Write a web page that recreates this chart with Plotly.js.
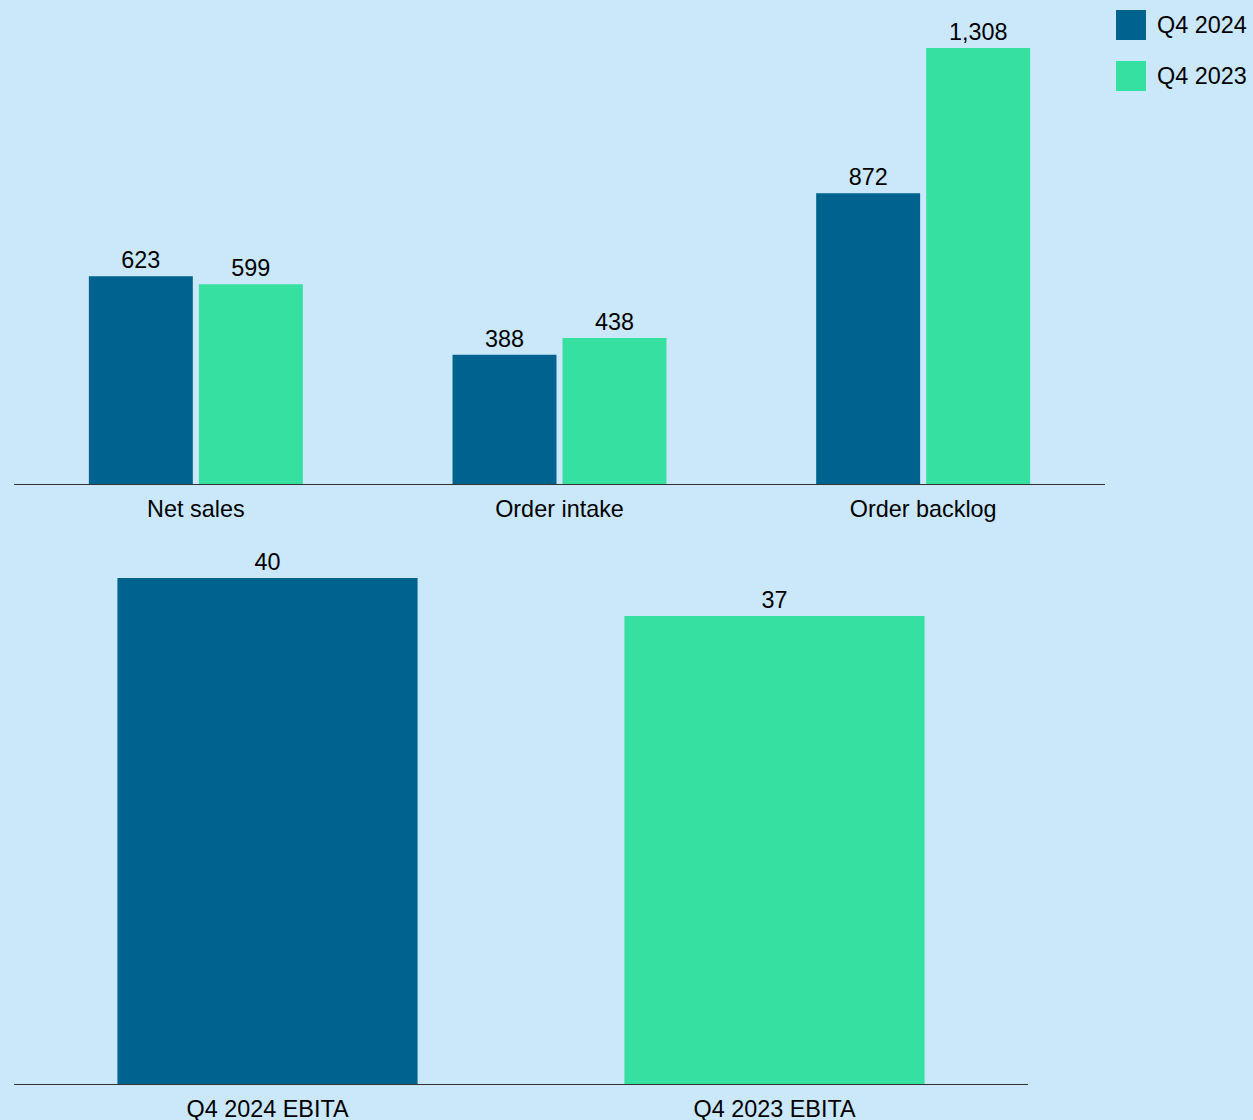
<!DOCTYPE html>
<html>
<head>
<meta charset="utf-8">
<script src="https://cdn.plot.ly/plotly-3.0.1.min.js"></script>
<style>html,body{margin:0;padding:0;background:#CBE8FA;}</style>
</head>
<body>
<div id="chart" style="width:1253px;height:1120px;"></div>
<script>
// Data
const categories = ['Net sales', 'Order intake', 'Order backlog'];
const seriesNames = ['Q4 2024', 'Q4 2023'];
const q4_2024 = [623, 388, 872];
const q4_2023 = [599, 438, 1308];
const ebitaLabels = ['Q4 2024 EBITA', 'Q4 2023 EBITA'];
const ebitaValues = [40, 37];

const C_DARK = '#00628E';
const C_GREEN = '#35E0A0';
const BG = '#CBE8FA';
const FONT = 'Liberation Sans, Arial, sans-serif';
const FS = 23.4;

const W = 1253, H = 1120;
const M = {l: 14, r: 148, t: 0, b: 36};
const PW = W - M.l - M.r, PH = H - M.t - M.b;
const px = v => (v - M.l) / PW;
const py = v => (H - M.b - v) / PH;

const traces = [
  {type: 'bar', name: seriesNames[0], x: categories, y: q4_2024,
   marker: {color: C_DARK}, texttemplate: '%{y:,}', textposition: 'outside',
   textfont: {size: FS, color: '#000', family: FONT}, cliponaxis: false,
   showlegend: false, hoverinfo: 'skip', xaxis: 'x', yaxis: 'y'},
  {type: 'bar', name: seriesNames[1], x: categories, y: q4_2023,
   marker: {color: C_GREEN}, texttemplate: '%{y:,}', textposition: 'outside',
   textfont: {size: FS, color: '#000', family: FONT}, cliponaxis: false,
   showlegend: false, hoverinfo: 'skip', xaxis: 'x', yaxis: 'y'},
  {type: 'bar', name: 'EBITA', x: ebitaLabels, y: ebitaValues,
   marker: {color: [C_DARK, C_GREEN]}, width: [0.592, 0.592],
   texttemplate: '%{y:,}', textposition: 'outside',
   textfont: {size: FS, color: '#000', family: FONT}, cliponaxis: false,
   showlegend: false, hoverinfo: 'skip', xaxis: 'x2', yaxis: 'y2'}
];

const legendColors = [C_DARK, C_GREEN];
const legendTop = [10, 61];
const shapes = [], annotations = [];
seriesNames.forEach((n, i) => {
  shapes.push({type: 'rect', xref: 'paper', yref: 'paper',
    x0: px(1116), x1: px(1146), y0: py(legendTop[i] + 30), y1: py(legendTop[i]),
    fillcolor: legendColors[i], line: {width: 0}});
  annotations.push({xref: 'paper', yref: 'paper', x: px(1155), y: py(legendTop[i] + 15),
    xanchor: 'left', yanchor: 'middle', showarrow: false, text: n,
    font: {size: FS, color: '#000', family: FONT}});
});

const axisCommon = {showline: true, linecolor: '#333333', linewidth: 1, ticks: '',
  showgrid: false, zeroline: false, tickfont: {size: FS, color: '#000', family: FONT},
  ticklabelstandoff: 4, fixedrange: true};

const layout = {
  width: W, height: H, margin: M,
  paper_bgcolor: BG, plot_bgcolor: BG,
  font: {family: FONT, size: FS, color: '#000'},
  barmode: 'group', bargap: 0.395, bargroupgap: 0.055,
  showlegend: false,
  xaxis: Object.assign({}, axisCommon, {domain: [0, 1], anchor: 'y'}),
  yaxis: {domain: [py(484), 1], range: [0, 1452], visible: false, fixedrange: true},
  xaxis2: Object.assign({}, axisCommon, {domain: [0, px(1028)], anchor: 'y2'}),
  yaxis2: {domain: [0, py(540)], range: [0, 43.0], visible: false, fixedrange: true},
  shapes: shapes, annotations: annotations
};

Plotly.newPlot('chart', traces, layout, {displayModeBar: false, staticPlot: true});
</script>
</body>
</html>
